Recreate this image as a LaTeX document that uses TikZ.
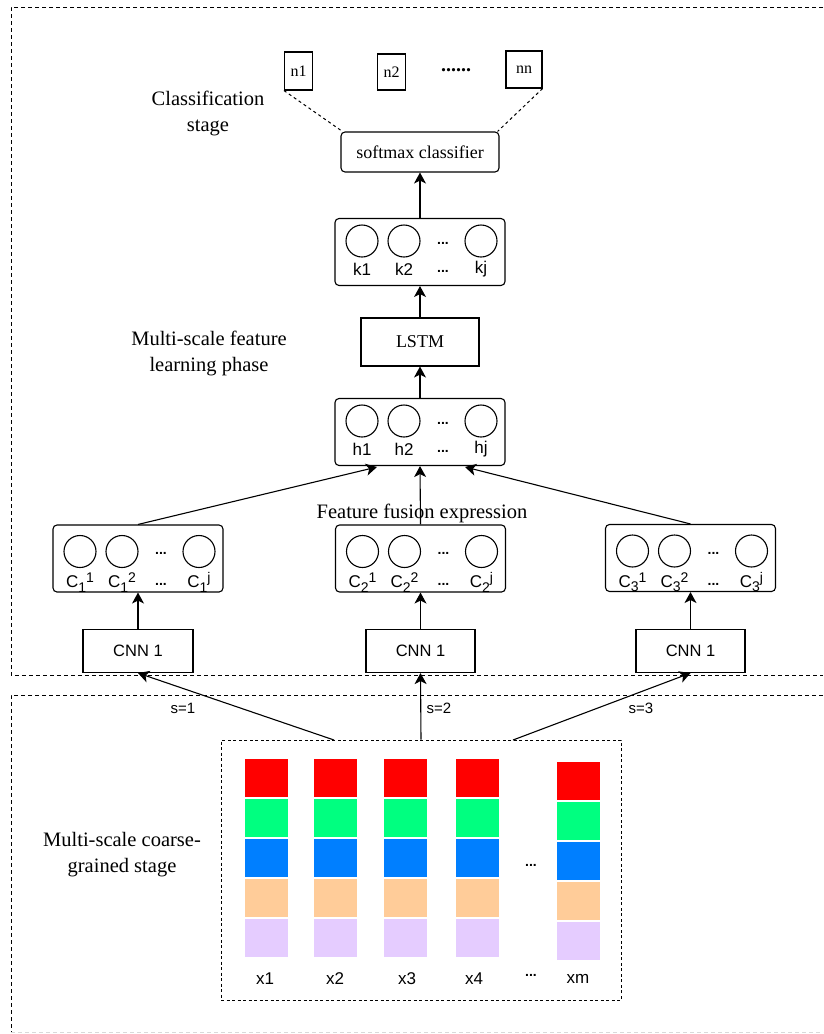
\documentclass[tikz,border=0pt]{standalone}
\usepackage{fontspec}
\setmainfont{Liberation Serif}
\setsansfont{Liberation Sans}
\usetikzlibrary{arrows.meta}
\definecolor{cred}{HTML}{FF0000}
\definecolor{cgreen}{HTML}{00FF80}
\definecolor{cblue}{HTML}{007FFF}
\definecolor{corange}{HTML}{FFCC99}
\definecolor{clav}{HTML}{E5CCFF}
\newcommand\cnlab[2]{C\raisebox{-4.5pt}{\fontsize{14}{14}\selectfont #1}\raisebox{5pt}{\fontsize{14}{14}\selectfont #2}}
\newcommand\mylayer[8]{%
  \node[rbox, minimum width=170pt, minimum height=67pt] (#1) at (#2,#3) {};
  \node[neuron] (#1a) at (#2-58,#3+#7) {};
  \node[neuron] (#1b) at (#2-16,#3+#7) {};
  \node[neuron] (#1c) at (#2+61,#3+#7) {};
  \node[lab] (#1la) at (#2-58,#3+#8) {#4};
  \node[lab] (#1lb) at (#2-16,#3+#8) {#5};
  \node[lab] (#1lc) at (#2+61,#3+#8) {#6};
  \node[dotsty] (#1da) at (#2+23,#3+#7+3) {...};
  \node[dotsty] (#1db) at (#2+23,#3+#8+3) {...};
}
\newcommand\mycol[3]{% name, left x, top y
  \node[cell, fill=cred, anchor=north west] (#1r) at (#2,#3) {};
  \node[cell, fill=cgreen, anchor=north] (#1g) at (#1r.south) {};
  \node[cell, fill=cblue, anchor=north] (#1b) at (#1g.south) {};
  \node[cell, fill=corange, anchor=north] (#1o) at (#1b.south) {};
  \node[cell, fill=clav, anchor=north] (#1l) at (#1o.south) {};
}
\begin{document}
\begin{tikzpicture}[x=1pt,y=1pt,
  box/.style={draw, line width=1.1pt, rectangle, inner sep=0pt},
  rbox/.style={box, rounded corners=4pt},
  neuron/.style={draw, circle, line width=1.1pt, minimum size=32pt, inner sep=0pt},
  lab/.style={font=\sffamily\fontsize{17}{17}\selectfont, inner sep=0pt},
  dotsty/.style={font=\sffamily\bfseries\fontsize{14}{14}\selectfont, inner sep=0pt, anchor=base},
  stagetxt/.style={font=\fontsize{20.5}{26}\selectfont, align=center, inner sep=0pt},
  serlab/.style={font=\fontsize{18}{20}\selectfont},
  sanlab/.style={font=\sffamily\fontsize{16.5}{16.5}\selectfont},
  arr/.style={line width=1.1pt, -{Stealth[length=11pt,width=12pt,inset=3pt]}},
  outer/.style={dash pattern=on 4pt off 3pt, line width=0.9pt},
  cell/.style={draw=white, line width=0.7pt, inner sep=0pt, minimum width=44pt, minimum height=39.2pt}
]
\begin{scope}[yscale=-1]
\useasboundingbox (0,0) rectangle (823,1034);
\fill[white] (0,0) rectangle (823,1034);

% outer stage frames
\draw[outer] (823,7) -- (11,7) -- (11,675) -- (823,675);
\draw[outer] (823,695) -- (11,695) -- (11,1032);
\draw[outer, black!15] (11,1032) -- (823,1032);

% classification stage
\node[box, minimum width=28pt, minimum height=38pt, font=\fontsize{16}{16}\selectfont] (n1) at (298.5,71) {n1};
\node[box, minimum width=28pt, minimum height=36pt, font=\fontsize{16}{16}\selectfont] (n2) at (391.5,72) {n2};
\node[font=\bfseries\fontsize{20}{20}\selectfont, inner sep=0pt] (ndots) at (456,70) {......};
\node[box, minimum width=36pt, minimum height=37pt, font=\fontsize{16}{16}\selectfont] (nn) at (524,69.5) {nn};
\node[rbox, minimum width=158pt, minimum height=40pt, serlab] (soft) at (420,152) {softmax classifier};
\draw[dashed, line width=1pt] (n1.south west) -- ([xshift=2pt]soft.north west);
\draw[dashed, line width=1pt] (nn.south east) -- ([xshift=-2pt]soft.north east);
\node[stagetxt] (clsstage) at (208,113) {Classification\\stage};

% feature learning
\mylayer{k}{420}{252}{k1}{k2}{kj}{-11}{17}
\node[box, minimum width=118pt, minimum height=48pt, serlab] (lstm) at (420,342) {LSTM};
\mylayer{h}{420}{432}{h1}{h2}{hj}{-11}{17}
\node[stagetxt] (featstage) at (209,353) {Multi-scale feature\\learning phase};
\draw[arr] (k.north) -- (soft.south);
\draw[arr] (lstm.north) -- (k.south);
\draw[arr] (h.north) -- (lstm.south);

% CNN branch layers
\mylayer{ca}{138}{558.5}{\cnlab{1}{1}}{\cnlab{1}{2}}{\cnlab{1}{j}}{-7}{24}
\mylayer{cb}{420.5}{558.5}{\cnlab{2}{1}}{\cnlab{2}{2}}{\cnlab{2}{j}}{-7}{24}
\mylayer{cc}{690.5}{558}{\cnlab{3}{1}}{\cnlab{3}{2}}{\cnlab{3}{j}}{-7}{24}
\node[font=\fontsize{20.5}{20}\selectfont, inner sep=0pt] (fusion) at (422,513) {Feature fusion expression};
\coordinate (hin1) at (377,467);
\coordinate (hin3) at (465,467);
\draw[arr] (ca.north) -- (hin1);
\draw[arr] (cb.north) -- (h.south);
\draw[arr] (cc.north) -- (hin3);

\node[box, minimum width=110pt, minimum height=43pt, sanlab] (cnna) at (138,651) {CNN 1};
\node[box, minimum width=109pt, minimum height=43pt, sanlab] (cnnb) at (420.5,651) {CNN 1};
\node[box, minimum width=109pt, minimum height=43pt, sanlab] (cnnc) at (690.5,651) {CNN 1};
\draw[arr] (cnna.north) -- (ca.south);
\draw[arr] (cnnb.north) -- (cb.south);
\draw[arr] (cnnc.north) -- (cc.south);

% coarse-grained stage
\node[draw, dash pattern=on 3pt off 2.5pt, line width=1pt, minimum width=400pt, minimum height=260pt, inner sep=0pt] (inp) at (421,870) {};
\coordinate (out1) at (334,740);
\coordinate (out3) at (513,740);
\draw[arr] (out1) -- (cnna.south);
\draw[arr] (inp.north) -- (cnnb.south);
\draw[arr] (out3) -- (cnnc.south);
\node[font=\sffamily\fontsize{15}{15}\selectfont] (s1) at (183,708) {s=1};
\node[font=\sffamily\fontsize{15}{15}\selectfont] (s2) at (439,708) {s=2};
\node[font=\sffamily\fontsize{15}{15}\selectfont] (s3) at (641,708) {s=3};

\mycol{xa}{244}{758}
\mycol{xb}{313}{758}
\mycol{xc}{383}{758}
\mycol{xd}{455}{758}
\mycol{xm}{556}{761}
\node[dotsty] (xdots) at (531,866) {...};
\node[lab] (xla) at (265,979) {x1};
\node[lab] (xlb) at (335,979) {x2};
\node[lab] (xlc) at (407,979) {x3};
\node[lab] (xld) at (474,979) {x4};
\node[dotsty] (xldots) at (531,976) {...};
\node[lab] (xlm) at (578,979) {xm};
\node[stagetxt] (coarse) at (122,855) {Multi-scale coarse-\\grained stage};
\end{scope}
\end{tikzpicture}
\end{document}
